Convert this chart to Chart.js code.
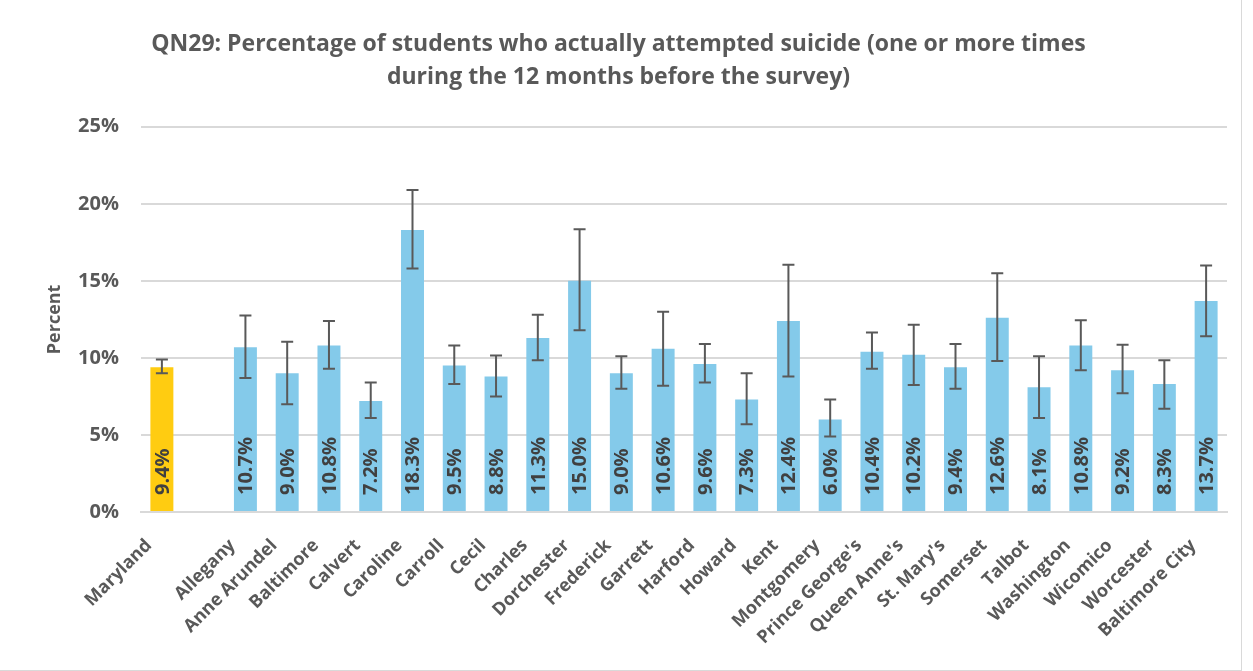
<!DOCTYPE html>
<html>
<head>
<meta charset="utf-8">
<script src="https://cdn.jsdelivr.net/npm/chart.js@4"></script>
<style>
  html, body { margin: 0; padding: 0; background: #fff; }
  #wrap { position: absolute; left: -1px; top: -1px; width: 1241px; height: 670px; border: 1px solid #d9d9d9; }
  canvas { display: block; }
</style>
</head>
<body>
<div id="wrap"><canvas id="chart" width="1241" height="670"></canvas></div>
<script>
  // data
  const places = ['Maryland', '', 'Allegany', 'Anne Arundel', 'Baltimore', 'Calvert', 'Caroline', 'Carroll', 'Cecil',
    'Charles', 'Dorchester', 'Frederick', 'Garrett', 'Harford', 'Howard', 'Kent', 'Montgomery', "Prince George's",
    "Queen Anne's", "St. Mary's", 'Somerset', 'Talbot', 'Washington', 'Wicomico', 'Worcester', 'Baltimore City'];
  const percents = [9.4, null, 10.7, 9.0, 10.8, 7.2, 18.3, 9.5, 8.8, 11.3, 15.0, 9.0, 10.6, 9.6, 7.3, 12.4, 6.0, 10.4,
    10.2, 9.4, 12.6, 8.1, 10.8, 9.2, 8.3, 13.7];
  const ciLow = [9.0, null, 8.7, 7.0, 9.3, 6.1, 15.8, 8.3, 7.5, 9.85, 11.8, 8.0, 8.2, 8.4, 5.7, 8.8, 4.9, 9.3,
    8.25, 8.0, 9.8, 6.1, 9.2, 7.7, 6.7, 11.4];
  const ciHigh = [9.9, null, 12.75, 11.05, 12.4, 8.4, 20.9, 10.8, 10.15, 12.8, 18.35, 10.1, 13.0, 10.9, 9.0, 16.05, 7.3, 11.65,
    12.15, 10.9, 15.5, 10.1, 12.45, 10.85, 9.85, 16.0];
  const yTicks = [0, 5, 10, 15, 20, 25];

  const gold = '#FFCC11';
  const blue = '#84CAEA';
  const textGray = '#595959';
  const font = '"Open Sans", sans-serif';

  // error bars + rotated value labels
  const overlay = {
    id: 'overlay',
    afterDatasetsDraw(chart) {
      const ctx = chart.ctx;
      const y = chart.scales.y;
      const meta = chart.getDatasetMeta(0);
      meta.data.forEach((bar, i) => {
        if (percents[i] == null) return;
        // labels
        ctx.save();
        ctx.translate(bar.x, y.getPixelForValue(0) - 17);
        ctx.rotate(-Math.PI / 2);
        ctx.font = 'bold 20px ' + font;
        ctx.fillStyle = '#404040';
        ctx.textAlign = 'left';
        ctx.textBaseline = 'middle';
        ctx.fillText(percents[i].toFixed(1) + '%', 0, 1);
        ctx.restore();
        // error bar
        const top = y.getPixelForValue(ciHigh[i]);
        const bot = y.getPixelForValue(ciLow[i]);
        ctx.save();
        ctx.strokeStyle = textGray;
        ctx.lineWidth = 2;
        ctx.beginPath();
        ctx.moveTo(bar.x, top); ctx.lineTo(bar.x, bot);
        ctx.moveTo(bar.x - 6, top); ctx.lineTo(bar.x + 6, top);
        ctx.moveTo(bar.x - 6, bot); ctx.lineTo(bar.x + 6, bot);
        ctx.stroke();
        ctx.restore();
      });
    }
  };

  new Chart(document.getElementById('chart'), {
    type: 'bar',
    data: {
      labels: places,
      datasets: [{
        data: percents,
        backgroundColor: places.map((p, i) => i === 0 ? gold : blue),
        barPercentage: 0.55,
        categoryPercentage: 1.0
      }]
    },
    options: {
      responsive: false,
      animation: false,
      layout: { padding: { left: 10, right: 14, top: 0, bottom: 0 } },
      plugins: {
        legend: { display: false },
        tooltip: { enabled: false },
        title: {
          display: true,
          text: ['QN29: Percentage of students who actually attempted suicide (one or more times',
                 'during the 12 months before the survey)'],
          color: textGray,
          font: { family: font, size: 23, weight: 'bold', lineHeight: 1.43 },
          padding: { top: 28, bottom: 33 }
        }
      },
      scales: {
        x: {
          grid: { display: false },
          border: { color: '#d9d9d9', width: 2 },
          ticks: {
            color: textGray,
            font: { family: font, size: 18, weight: 'bold' },
            maxRotation: 45, minRotation: 45,
            autoSkip: false, padding: 15, labelOffset: -13
          },
          afterFit: s => { s.height = 670 - 512; }
        },
        y: {
          min: 0, max: 25,
          afterBuildTicks: s => { s.ticks = yTicks.map(v => ({ value: v })); },
          grid: { color: '#d9d9d9', lineWidth: 2, drawTicks: false },
          border: { display: false },
          ticks: {
            color: textGray,
            font: { family: font, size: 20, weight: 'bold' },
            padding: 22,
            callback: v => v + '%'
          },
          title: {
            display: true, text: 'Percent', color: textGray,
            font: { family: font, size: 18, weight: 'bold' }, padding: { top: 34, bottom: 0 }
          },
          afterFit: s => { s.width = 141 - 10; }
        }
      }
    },
    plugins: [overlay]
  });
</script>
</body>
</html>
